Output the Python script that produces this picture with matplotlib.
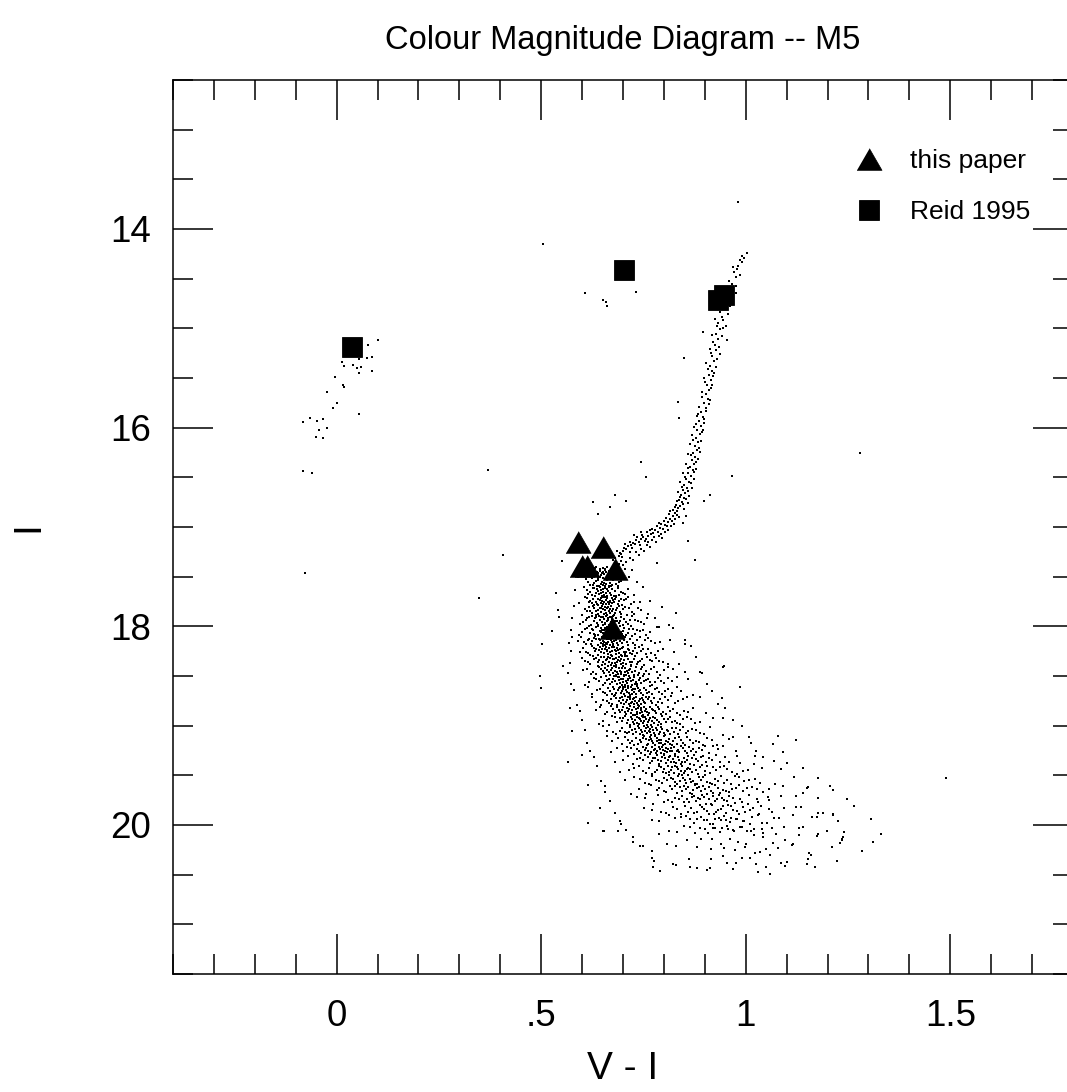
import numpy as np
import matplotlib
matplotlib.use('Agg')
import matplotlib.pyplot as plt
from matplotlib.ticker import MultipleLocator, FuncFormatter

plt.rcParams['font.family'] = ['Liberation Sans', 'DejaVu Sans']

# главная последовательность ниже точки поворота
ms_text = """
.597 17.43 .618 17.41 .624 17.44 .631 17.41 .636 17.45 .640 17.49 .644 17.42 .648 17.46 .651 17.45
.655 17.43 .659 17.45 .663 17.48 .668 17.49 .674 17.47 .681 17.49 .692 17.43 .705 17.42 .721 17.43
.589 17.50 .609 17.52 .620 17.58 .627 17.58 .633 17.54 .638 17.51 .642 17.59 .646 17.57 .650 17.51
.653 17.56 .657 17.59 .661 17.53 .665 17.59 .670 17.59 .676 17.53 .683 17.57 .691 17.55 .702 17.51
.714 17.50 .733 17.55
.583 17.63 .604 17.60 .615 17.67 .623 17.68 .629 17.61 .634 17.66 .639 17.64 .643 17.60 .647 17.66
.650 17.62 .654 17.68 .658 17.66 .662 17.62 .666 17.60 .671 17.68 .677 17.69 .684 17.69 .690 17.68
.699 17.66 .711 17.62 .726 17.68 .748 17.60
.592 17.77 .607 17.70 .617 17.76 .624 17.77 .630 17.79 .636 17.78 .640 17.72 .645 17.71 .649 17.74
.652 17.78 .656 17.70 .659 17.78 .663 17.76 .667 17.75 .672 17.71 .676 17.73 .681 17.72 .687 17.78
.694 17.72 .702 17.73 .713 17.70 .727 17.76 .741 17.76 .765 17.74
.581 17.80 .600 17.89 .612 17.85 .620 17.85 .627 17.80 .633 17.85 .638 17.88 .643 17.82 .647 17.82
.651 17.83 .655 17.81 .658 17.87 .661 17.82 .665 17.85 .669 17.83 .673 17.85 .678 17.89 .683 17.84
.689 17.80 .696 17.88 .704 17.81 .715 17.82 .728 17.88 .744 17.84 .762 17.88 .795 17.81
.576 17.92 .596 17.98 .609 17.94 .618 17.91 .625 17.90 .631 17.92 .637 17.97 .642 17.90 .646 17.91
.650 17.99 .654 17.93 .657 17.98 .661 17.95 .664 17.92 .668 17.91 .672 17.91 .676 17.90 .681 17.95
.686 17.95 .692 17.95 .699 17.99 .707 17.96 .717 17.94 .729 17.94 .743 17.96 .758 17.92 .779 17.92
.812 17.99
.572 18.04 .593 18.09 .606 18.03 .616 18.00 .623 18.03 .629 18.08 .635 18.01 .640 18.09 .645 18.06
.649 18.04 .653 18.04 .657 18.02 .660 18.08 .664 18.08 .667 18.01 .671 18.00 .675 18.09 .679 18.07
.684 18.05 .689 18.06 .694 18.06 .700 18.05 .707 18.09 .715 18.03 .724 18.03 .735 18.04 .749 18.04
.766 18.06 .788 18.01 .821 18.02
.568 18.17 .590 18.15 .604 18.16 .614 18.14 .622 18.18 .629 18.12 .635 18.13 .641 18.13 .646 18.17
.650 18.18 .654 18.16 .658 18.17 .662 18.18 .666 18.13 .669 18.11 .673 18.16 .677 18.15 .681 18.12
.685 18.17 .690 18.11 .695 18.12 .700 18.10 .706 18.11 .713 18.19 .721 18.10 .730 18.19 .741 18.11
.754 18.14 .769 18.15 .790 18.16 .815 18.14 .852 18.18
.573 18.25 .596 18.26 .610 18.26 .620 18.29 .628 18.22 .635 18.23 .641 18.24 .647 18.26 .652 18.20
.656 18.23 .660 18.24 .664 18.28 .668 18.26 .672 18.21 .676 18.20 .680 18.24 .684 18.25 .688 18.24
.692 18.23 .697 18.22 .702 18.26 .708 18.26 .714 18.24 .721 18.28 .729 18.22 .738 18.21 .749 18.23
.762 18.23 .778 18.29 .797 18.23 .824 18.26 .866 18.20
.570 18.37 .599 18.32 .615 18.36 .626 18.30 .634 18.32 .641 18.34 .648 18.39 .654 18.31 .659 18.34
.663 18.31 .668 18.32 .672 18.37 .676 18.33 .680 18.37 .684 18.32 .688 18.34 .692 18.35 .696 18.38
.700 18.37 .705 18.30 .710 18.30 .716 18.36 .722 18.36 .729 18.30 .737 18.36 .747 18.33 .758 18.31
.772 18.35 .789 18.35 .810 18.38 .838 18.38 .879 18.31
.566 18.47 .602 18.44 .621 18.48 .633 18.48 .642 18.41 .650 18.45 .657 18.42 .663 18.40 .668 18.49
.673 18.42 .677 18.40 .682 18.49 .686 18.46 .690 18.42 .694 18.48 .698 18.42 .702 18.49 .706 18.42
.710 18.45 .715 18.44 .720 18.40 .726 18.49 .732 18.41 .739 18.47 .747 18.41 .757 18.45 .769 18.43
.783 18.46 .800 18.44 .822 18.43 .851 18.46 .893 18.47
.574 18.58 .608 18.59 .628 18.52 .641 18.55 .651 18.59 .659 18.50 .666 18.53 .672 18.56 .677 18.50
.682 18.50 .687 18.51 .691 18.51 .695 18.53 .699 18.53 .703 18.50 .707 18.55 .711 18.53 .715 18.50
.719 18.55 .724 18.54 .729 18.58 .735 18.58 .741 18.52 .748 18.50 .756 18.54 .766 18.56 .778 18.56
.792 18.55 .809 18.52 .831 18.51 .860 18.53 .905 18.58
.581 18.64 .615 18.61 .636 18.64 .650 18.66 .660 18.69 .668 18.65 .675 18.61 .681 18.69 .687 18.64
.692 18.61 .697 18.65 .701 18.61 .705 18.61 .709 18.66 .713 18.60 .717 18.69 .721 18.64 .725 18.63
.729 18.63 .734 18.60 .739 18.65 .745 18.67 .752 18.62 .759 18.67 .767 18.60 .777 18.63 .789 18.66
.803 18.65 .820 18.67 .842 18.65 .871 18.69 .918 18.65
.588 18.79 .624 18.71 .645 18.79 .660 18.75 .670 18.73 .678 18.70 .685 18.79 .692 18.72 .698 18.71
.703 18.78 .708 18.76 .712 18.71 .716 18.71 .720 18.77 .724 18.73 .728 18.78 .732 18.71 .736 18.79
.741 18.73 .746 18.72 .751 18.76 .757 18.71 .764 18.71 .771 18.77 .780 18.79 .790 18.73 .802 18.71
.817 18.70 .835 18.75 .857 18.71 .887 18.71 .933 18.78
.594 18.85 .633 18.84 .655 18.88 .670 18.80 .681 18.87 .690 18.84 .697 18.84 .704 18.86 .710 18.82
.715 18.83 .720 18.87 .725 18.89 .729 18.89 .733 18.86 .737 18.82 .741 18.87 .745 18.84 .749 18.89
.754 18.85 .759 18.86 .764 18.87 .770 18.83 .777 18.85 .785 18.81 .794 18.88 .804 18.88 .816 18.85
.831 18.87 .849 18.85 .872 18.82 .903 18.87 .950 18.82
.600 18.94 .641 18.98 .665 18.99 .681 18.91 .692 18.92 .701 18.92 .709 18.97 .716 18.99 .722 18.93
.728 18.98 .733 18.91 .738 18.98 .742 18.93 .746 18.90 .750 18.91 .754 18.91 .758 18.99 .763 18.94
.768 18.99 .773 18.91 .779 18.92 .785 18.99 .792 18.98 .800 18.93 .809 18.93 .820 18.96 .832 18.97
.847 18.93 .865 18.93 .889 18.96 .921 18.92 .968 18.94
.606 19.04 .650 19.00 .676 19.06 .692 19.05 .704 19.06 .714 19.06 .722 19.04 .729 19.03 .736 19.00
.742 19.08 .747 19.06 .752 19.00 .757 19.02 .761 19.01 .765 19.03 .769 19.09 .774 19.04 .779 19.09
.784 19.04 .790 19.06 .796 19.03 .803 19.09 .811 19.05 .819 19.02 .829 19.02 .840 19.04 .853 19.07
.869 19.03 .888 19.07 .912 19.01 .945 19.09 .991 19.00
.613 19.17 .660 19.10 .687 19.12 .705 19.11 .718 19.17 .728 19.19 .737 19.18 .745 19.16 .752 19.10
.758 19.19 .764 19.14 .769 19.13 .774 19.17 .779 19.10 .784 19.12 .789 19.17 .794 19.17 .800 19.10
.806 19.15 .812 19.13 .819 19.19 .827 19.12 .836 19.11 .846 19.17 .857 19.11 .870 19.17 .886 19.16
.905 19.12 .929 19.19 .960 19.13 1.008 19.11
.620 19.26 .670 19.27 .699 19.25 .719 19.22 .733 19.23 .744 19.28 .753 19.24 .761 19.26 .768 19.27
.775 19.24 .781 19.28 .787 19.21 .792 19.28 .797 19.24 .803 19.26 .808 19.27 .814 19.26 .820 19.26
.827 19.29 .834 19.24 .842 19.20 .851 19.25 .861 19.21 .872 19.23 .885 19.22 .901 19.20 .920 19.20
.944 19.20 .976 19.25 1.025 19.26
.628 19.32 .681 19.37 .712 19.31 .733 19.34 .748 19.35 .760 19.32 .770 19.36 .778 19.33 .786 19.35
.793 19.36 .800 19.30 .806 19.38 .812 19.32 .818 19.37 .824 19.37 .830 19.38 .837 19.35 .844 19.37
.852 19.37 .860 19.31 .869 19.33 .879 19.34 .890 19.32 .903 19.37 .918 19.35 .936 19.37 .958 19.37
.985 19.38 1.020 19.39 1.068 19.36
.637 19.41 .693 19.47 .726 19.43 .748 19.46 .764 19.43 .777 19.47 .788 19.41 .797 19.47 .805 19.48
.813 19.47 .820 19.42 .827 19.41 .834 19.44 .841 19.46 .848 19.48 .856 19.44 .864 19.44 .873 19.40
.883 19.49 .894 19.40 .906 19.41 .920 19.42 .936 19.42 .955 19.44 .978 19.49 1.006 19.45 1.040 19.43
1.086 19.44 1.140 19.43
.646 19.56 .706 19.55 .741 19.54 .764 19.59 .781 19.55 .795 19.58 .807 19.55 .817 19.53 .826 19.57
.835 19.51 .843 19.50 .851 19.55 .859 19.50 .867 19.57 .876 19.59 .885 19.52 .895 19.52 .906 19.57
.918 19.59 .931 19.56 .946 19.58 .963 19.59 .983 19.52 1.007 19.55 1.036 19.58 1.072 19.59 1.118 19.52
1.176 19.53
.657 19.61 .720 19.69 .757 19.69 .782 19.65 .800 19.66 .815 19.61 .828 19.61 .839 19.62 .849 19.61
.859 19.62 .868 19.69 .877 19.60 .886 19.62 .895 19.61 .905 19.69 .915 19.66 .926 19.60 .938 19.68
.951 19.66 .966 19.64 .983 19.60 1.003 19.63 1.027 19.64 1.056 19.64 1.092 19.61 1.140 19.68 1.205 19.61
.668 19.76 .735 19.72 .774 19.79 .801 19.77 .820 19.77 .836 19.74 .850 19.77 .862 19.77 .873 19.71
.884 19.73 .894 19.70 .904 19.79 .914 19.79 .924 19.76 .935 19.70 .947 19.75 .960 19.71 .974 19.78
.990 19.77 1.008 19.70 1.029 19.77 1.054 19.72 1.085 19.71 1.124 19.71 1.176 19.73 1.248 19.74
.680 19.88 .752 19.83 .793 19.87 .821 19.82 .842 19.89 .859 19.87 .874 19.88 .887 19.80 .899 19.84
.911 19.89 .922 19.89 .933 19.85 .944 19.81 .956 19.80 .969 19.85 .983 19.89 .999 19.87 1.017 19.83
1.038 19.81 1.063 19.87 1.094 19.83 1.134 19.82 1.188 19.88 1.265 19.81
.694 19.99 .770 19.95 .812 19.90 .842 19.92 .864 19.94 .882 19.94 .898 19.95 .913 19.99 .926 19.94
.939 19.95 .951 19.95 .964 19.93 .978 19.94 .993 19.96 1.010 19.99 1.030 19.90 1.053 19.98 1.081 19.93
1.116 19.90 1.162 19.92 1.225 19.96 1.305 19.94
.708 20.05 .789 20.09 .833 20.07 .864 20.02 .888 20.03 .908 20.08 .926 20.03 .942 20.03 .957 20.04
.972 20.06 .987 20.02 1.003 20.06 1.021 20.04 1.041 20.08 1.065 20.03 1.094 20.02 1.130 20.03 1.177 20.09
1.240 20.07 1.330 20.09
.724 20.12 .808 20.19 .856 20.15 .890 20.14 .917 20.14 .940 20.19 .961 20.14 .981 20.17 1.000 20.19
1.020 20.10 1.042 20.12 1.066 20.18 1.095 20.15 1.130 20.10 1.175 20.11 1.235 20.15 1.312 20.17
.742 20.21 .830 20.21 .880 20.22 .916 20.24 .946 20.23 .973 20.25 .998 20.22 1.023 20.28 1.049 20.24
1.078 20.23 1.112 20.20 1.155 20.28 1.212 20.22 1.285 20.26
.775 20.36 .862 20.34 .915 20.34 .955 20.38 .990 20.33 1.024 20.39 1.060 20.30 1.100 20.37 1.152 20.34
1.222 20.36
.830 20.40 .905 20.45 .968 20.44 1.030 20.47 1.095 20.41 1.170 20.42
"""

# плотное ядро главной последовательности (второй проход)
core_text = """
.626 17.47 .633 17.40 .639 17.46 .646 17.48 .650 17.41 .653 17.47 .657 17.42 .661 17.40 .666 17.44
.671 17.46 .677 17.41 .686 17.46 .612 17.48 .643 17.44
.615 17.55 .624 17.51 .630 17.56 .636 17.59 .640 17.53 .644 17.50 .648 17.55 .652 17.58 .655 17.52
.659 17.57 .663 17.51 .667 17.56 .673 17.58 .679 17.52 .687 17.59 .696 17.54
.611 17.63 .619 17.65 .626 17.61 .632 17.69 .637 17.62 .641 17.67 .645 17.63 .649 17.69 .652 17.65
.656 17.61 .660 17.69 .664 17.64 .668 17.66 .674 17.62 .680 17.64 .687 17.61 .694 17.65 .704 17.67
.612 17.71 .620 17.74 .627 17.72 .633 17.76 .638 17.79 .643 17.73 .647 17.77 .651 17.70 .654 17.76
.658 17.73 .661 17.71 .665 17.78 .669 17.74 .674 17.77 .679 17.75 .684 17.70 .690 17.74 .697 17.79
.707 17.72 .719 17.78
.608 17.83 .616 17.81 .624 17.87 .630 17.82 .635 17.89 .640 17.84 .645 17.86 .649 17.80 .653 17.88
.656 17.84 .660 17.89 .663 17.81 .667 17.87 .671 17.80 .676 17.83 .681 17.87 .686 17.82 .692 17.86
.699 17.83 .709 17.89 .721 17.86 .736 17.82
.603 17.96 .613 17.92 .621 17.99 .628 17.95 .634 17.91 .639 17.99 .644 17.94 .648 17.96 .652 17.91
.655 17.97 .659 17.90 .663 17.94 .666 17.99 .670 17.96 .674 17.93 .678 17.98 .683 17.92 .689 17.97
.695 17.91 .703 17.93 .712 17.98 .723 17.90 .736 17.95 .751 17.98
.600 18.06 .611 18.02 .619 18.07 .626 18.04 .632 18.09 .638 18.00 .643 18.05 .647 18.02 .651 18.07
.655 18.09 .659 18.03 .662 18.01 .666 18.06 .669 18.04 .673 18.08 .677 18.02 .682 18.09 .687 18.03
.692 18.00 .697 18.08 .703 18.02 .711 18.07 .719 18.00 .729 18.08 .742 18.05 .757 18.09
.597 18.11 .609 18.18 .618 18.13 .625 18.15 .632 18.10 .638 18.19 .643 18.14 .648 18.11 .652 18.15
.656 18.19 .660 18.13 .664 18.16 .667 18.19 .671 18.14 .675 18.18 .679 18.10 .683 18.14 .688 18.19
.692 18.15 .697 18.17 .703 18.14 .709 18.16 .717 18.13 .725 18.17 .735 18.14 .747 18.19 .761 18.12
.778 18.17
.602 18.22 .615 18.27 .624 18.20 .632 18.25 .638 18.29 .644 18.21 .649 18.23 .654 18.27 .658 18.21
.662 18.25 .666 18.22 .670 18.29 .674 18.25 .678 18.21 .682 18.28 .686 18.22 .690 18.27 .695 18.29
.699 18.21 .705 18.28 .711 18.23 .718 18.27 .725 18.25 .733 18.27 .743 18.25 .755 18.28 .769 18.27
.786 18.25
.606 18.35 .620 18.38 .630 18.33 .638 18.36 .645 18.31 .651 18.36 .656 18.38 .661 18.33 .666 18.36
.670 18.39 .674 18.30 .678 18.33 .682 18.39 .686 18.36 .690 18.31 .694 18.33 .698 18.30 .702 18.34
.707 18.38 .713 18.33 .719 18.39 .726 18.33 .733 18.38 .742 18.35 .752 18.39 .765 18.34 .780 18.32
.798 18.36
.612 18.43 .627 18.46 .638 18.40 .646 18.43 .654 18.47 .660 18.44 .666 18.46 .671 18.44 .675 18.47
.680 18.45 .684 18.41 .688 18.48 .692 18.45 .696 18.46 .700 18.40 .704 18.46 .708 18.49 .713 18.47
.718 18.43 .723 18.46 .729 18.45 .736 18.49 .743 18.43 .752 18.48 .763 18.48 .776 18.41 .791 18.49
.811 18.41
.618 18.56 .635 18.53 .646 18.51 .655 18.57 .662 18.54 .669 18.58 .675 18.53 .680 18.55 .685 18.58
.689 18.54 .693 18.57 .697 18.59 .701 18.56 .705 18.59 .709 18.57 .713 18.54 .717 18.52 .722 18.59
.727 18.51 .732 18.56 .738 18.54 .745 18.57 .752 18.55 .761 18.53 .772 18.59 .785 18.52 .800 18.57
.820 18.55
.625 18.68 .643 18.63 .655 18.67 .664 18.62 .672 18.68 .678 18.63 .684 18.67 .689 18.62 .694 18.67
.699 18.63 .703 18.68 .707 18.64 .711 18.62 .715 18.67 .719 18.61 .723 18.68 .727 18.66 .732 18.68
.737 18.62 .742 18.64 .748 18.69 .755 18.64 .763 18.66 .772 18.68 .783 18.62 .796 18.68 .811 18.63
.831 18.61
.635 18.76 .652 18.74 .665 18.77 .674 18.78 .682 18.72 .689 18.75 .695 18.77 .701 18.74 .706 18.70
.710 18.74 .714 18.78 .718 18.73 .722 18.76 .726 18.72 .730 18.75 .734 18.77 .738 18.75 .743 18.78
.749 18.74 .754 18.77 .760 18.73 .768 18.75 .776 18.72 .785 18.76 .796 18.77 .809 18.74 .826 18.77
.846 18.73
.643 18.81 .662 18.86 .675 18.83 .685 18.81 .693 18.86 .700 18.81 .707 18.88 .712 18.85 .717 18.80
.722 18.84 .727 18.81 .731 18.83 .735 18.88 .739 18.80 .743 18.82 .747 18.86 .751 18.81 .756 18.83
.761 18.89 .767 18.81 .773 18.84 .780 18.87 .789 18.83 .798 18.86 .809 18.81 .823 18.83 .839 18.89
.860 18.86
.652 18.95 .672 18.90 .686 18.96 .697 18.95 .705 18.90 .712 18.94 .719 18.91 .725 18.96 .730 18.94
.735 18.97 .740 18.92 .744 18.95 .748 18.97 .752 18.95 .756 18.93 .760 18.96 .765 18.92 .770 18.95
.776 18.97 .782 18.94 .789 18.96 .796 18.90 .804 18.96 .814 18.91 .826 18.95 .840 18.98 .856 18.91
.877 18.97
.662 19.05 .683 19.08 .698 19.02 .709 19.07 .718 19.01 .725 19.08 .732 19.06 .739 19.02 .744 19.04
.749 19.09 .754 19.05 .759 19.07 .763 19.05 .767 19.06 .771 19.01 .776 19.07 .781 19.02 .787 19.08
.793 19.01 .799 19.07 .807 19.04 .815 19.08 .824 19.06 .834 19.08 .846 19.01 .860 19.05 .878 19.04
.899 19.08
.674 19.15 .697 19.18 .712 19.14 .723 19.15 .732 19.12 .741 19.14 .748 19.12 .755 19.13 .761 19.18
.767 19.11 .772 19.15 .777 19.19 .782 19.15 .787 19.14 .792 19.14 .797 19.19 .803 19.18 .809 19.16
.816 19.18 .823 19.15 .831 19.18 .841 19.14 .851 19.19 .863 19.14 .878 19.15 .895 19.19 .917 19.14
.686 19.22 .710 19.21 .726 19.29 .739 19.26 .749 19.21 .757 19.22 .765 19.29 .772 19.21 .778 19.23
.784 19.25 .790 19.23 .795 19.21 .800 19.29 .806 19.22 .811 19.23 .817 19.22 .824 19.21 .831 19.26
.838 19.27 .847 19.22 .856 19.28 .866 19.26 .878 19.27 .893 19.24 .910 19.28 .932 19.23
.700 19.35 .724 19.39 .741 19.33 .754 19.30 .765 19.38 .774 19.33 .782 19.30 .789 19.39 .796 19.32
.803 19.33 .809 19.35 .815 19.31 .821 19.34 .827 19.31 .834 19.32 .841 19.39 .848 19.33 .856 19.35
.864 19.39 .874 19.30 .884 19.36 .896 19.31 .911 19.33 .928 19.30 .950 19.32
.714 19.45 .739 19.41 .757 19.48 .770 19.49 .782 19.45 .792 19.42 .801 19.44 .809 19.41 .817 19.45
.824 19.48 .831 19.42 .838 19.49 .845 19.41 .852 19.46 .860 19.43 .868 19.47 .878 19.45 .888 19.42
.900 19.46 .913 19.48 .928 19.45 .946 19.41 .967 19.47 .993 19.46
.726 19.52 .753 19.58 .772 19.51 .787 19.56 .800 19.53 .812 19.50 .822 19.54 .831 19.59 .839 19.56
.847 19.53 .855 19.58 .863 19.54 .872 19.56 .881 19.59 .890 19.55 .900 19.50 .912 19.58 .925 19.54
.939 19.51 .955 19.55 .974 19.51 .996 19.56 1.022 19.54
.739 19.64 .768 19.60 .789 19.63 .806 19.67 .820 19.64 .833 19.68 .844 19.66 .854 19.64 .863 19.68
.872 19.65 .881 19.63 .891 19.66 .900 19.64 .910 19.62 .920 19.68 .932 19.63 .945 19.65 .959 19.67
.975 19.63 .993 19.66 1.015 19.62 1.042 19.67
.754 19.73 .786 19.70 .809 19.75 .828 19.73 .843 19.71 .856 19.74 .868 19.72 .879 19.76 .889 19.74
.899 19.72 .909 19.74 .919 19.71 .930 19.74 .942 19.73 .955 19.76 .970 19.73 .986 19.74 1.005 19.79
1.028 19.74 1.058 19.75
.771 19.85 .806 19.88 .831 19.84 .851 19.81 .867 19.83 .881 19.87 .894 19.82 .906 19.86 .917 19.80
.928 19.87 .939 19.84 .951 19.88 .964 19.81 .978 19.86 .993 19.82 1.011 19.85 1.032 19.89 1.057 19.84
.789 19.96 .826 19.93 .853 19.91 .873 19.98 .890 19.92 .905 19.95 .920 19.99 .934 19.93 .948 19.91
.962 19.97 .977 19.94 .995 19.96 1.015 19.92 1.040 19.98 1.070 19.93
.812 20.06 .850 20.01 .877 20.08 .900 20.04 .919 20.03 .937 20.07 .953 20.01 .970 20.05 .990 20.02
1.013 20.06 1.040 20.04 1.075 20.09
"""

# субгиганты и ветвь красных гигантов
rgb_text = """
.676 17.33 .689 17.29 .681 17.31 .694 17.27 .700 17.24 .692 17.26 .707 17.22 .713 17.19 .703 17.21
.719 17.18 .725 17.16 .716 17.15 .731 17.13 .738 17.15 .744 17.12 .729 17.17 .750 17.10 .756 17.12
.747 17.08 .762 17.09 .768 17.07 .759 17.05 .773 17.06 .779 17.03 .770 17.02 .785 17.05 .790 17.01
.782 16.99 .797 17.02 .794 16.97 .803 16.98 .799 16.94 .810 16.95 .806 16.91 .815 16.92 .821 16.89
.812 16.87 .826 16.86 .831 16.84 .823 16.83 .835 16.81 .840 16.79 .829 16.78 .843 16.75 .837 16.73
.848 16.71 .842 16.68 .851 16.66 .846 16.63 .857 16.61 .850 16.58 .861 16.55 .855 16.52 .866 16.49
.859 16.46 .870 16.43 .864 16.40 .873 16.37 .868 16.33 .877 16.30 .871 16.26 .880 16.22 .875 16.18
.884 16.14 .879 16.10 .887 16.06 .882 16.02 .890 15.98 .885 15.93 .895 15.89 .890 15.84 .902 15.80
.897 15.75 .907 15.71 .903 15.66 .910 15.62 .906 15.57 .914 15.52 .909 15.47 .917 15.43 .913 15.38
.923 15.33 .918 15.28 .928 15.22 .924 15.17 .932 15.11 .927 15.06 .937 15.01 .933 14.95 .943 14.89
.938 14.84 .952 14.79 .958 14.73 .963 14.67 .969 14.61 .966 14.55 .975 14.48 .972 14.43 .981 14.37
.986 14.31 .992 14.27 1.003 14.24
.671 17.28 .686 17.24 .698 17.30 .705 17.17 .722 17.21 .734 17.10 .741 17.18 .753 17.14 .765 17.03
.776 17.10 .788 16.96 .761 17.15 .717 17.25 .695 17.34 .728 17.08 .744 17.05 .792 17.07 .808 16.99
.819 16.94 .833 16.88 .827 16.80 .816 16.84 .847 16.77 .839 16.70 .853 16.72 .845 16.60 .860 16.64
.852 16.50 .867 16.56 .858 16.41 .874 16.45 .865 16.28 .879 16.35 .872 16.12 .886 16.20 .878 15.96
.893 16.04 .884 15.86 .899 15.91 .893 15.69 .911 15.76 .901 15.54 .916 15.60 .907 15.41 .920 15.48
.915 15.25 .930 15.31 .921 15.14 .935 15.19 .929 14.98 .945 14.92 .947 14.70 .961 14.78 .975 14.57
.978 14.40 .990 14.33
.846 16.96 .828 16.92 .838 16.90 .824 16.97 .817 16.99 .802 17.05 .811 17.03 .787 17.09 .796 17.11
.772 17.13 .781 17.15 .758 17.18 .767 17.20 .744 17.22 .752 17.24 .731 17.25 .738 17.28 .716 17.31
.724 17.33 .708 17.35 .701 17.38 .689 17.37
.855 16.89 .849 16.82 .858 16.76 .833 16.74 .862 16.69 .834 16.65 .869 16.61 .840 16.55 .873 16.52
.847 16.46 .878 16.42 .853 16.37 .883 16.32 .858 16.27 .887 16.24 .863 16.16 .891 16.13 .869 16.07
.895 16.02 .874 15.99 .899 15.95 .880 15.88 .904 15.83 .886 15.79 .912 15.72 .894 15.64 .918 15.57
.898 15.50 .922 15.45 .904 15.35 .928 15.39 .912 15.21 .936 15.26 .918 15.07 .941 15.08 .924 14.91
.952 14.98 .956 14.86 .946 14.66 .977 14.64 .960 14.52 .985 14.46 .968 14.38 .996 14.29
.849 15.30 .834 15.74 .837 15.90 .744 16.35 .756 16.50 .966 16.49 .944 15.00 .953 15.12 .895 15.04
.680 16.68 .627 16.75 .668 16.80 .707 16.74 .638 16.87 .912 16.68 .898 16.74 .876 17.33 .782 17.36
.859 17.14
"""

# горизонтальная ветвь и AGB
hb_text = """
.100 15.12 .076 15.17 .086 15.29 .074 15.30 .054 15.31 .012 15.34 .018 15.38 .039 15.37 .050 15.40
.060 15.39 .054 15.45 .086 15.43 -.004 15.49 .016 15.57 .018 15.59 -.024 15.64 .000 15.75 -.008 15.80
.054 15.86 -.065 15.90 -.082 15.94 -.049 15.93 -.034 15.91 -.024 16.00 -.043 16.02 -.051 16.09
-.033 16.10 -.083 16.44 -.061 16.46
.607 14.64 .651 14.71 .658 14.73 .662 14.78 .731 14.63 .504 14.15
"""

# поле: разбросанные звёзды вокруг последовательности
field_text = """
.407 17.28 .552 17.34 .536 17.66 .541 17.84 .543 17.91 .526 18.05 .501 18.18 .497 18.50 .575 18.11
.829 17.87 .782 18.01 .851 18.14 .944 18.41 .887 18.46
.947 18.40 .985 18.61 .942 18.72 .945 18.92 .969 19.11 1.079 19.10 1.124 19.14 1.013 19.17 1.066 19.18
1.091 19.27 .978 19.31 1.023 19.31 1.042 19.32 1.100 19.38 1.149 19.63 1.213 19.65 1.213 19.90
1.173 19.92 1.238 20.12 1.124 19.82
.553 18.40 .500 18.62 .570 18.82 .575 19.05 .566 19.37 .599 19.30 .615 19.60 .644 19.83 .615 19.98
.652 20.06
.770 20.26 .770 20.33 .790 20.46 .774 20.42 .823 20.39 .864 20.42 .880 20.43 .912 20.43 .944 20.31
.977 20.38 1.010 20.33 1.034 20.27 1.050 20.42 1.059 20.49 1.085 20.38 1.149 20.39 1.159 20.30
1.115 20.19 1.230 20.18 1.235 20.14 1.198 20.06 1.213 19.89 1.152 19.62 1.177 19.88 1.140 20.02
.653 20.06 .688 20.06 .725 20.17 .748 20.21 .656 19.67 .692 19.96
.370 16.43 -.077 17.46 .348 17.71 1.280 16.25 1.490 19.53 .980 13.73
"""


def pairs(text):
    arr = np.array(text.split(), dtype=float).reshape(-1, 2)
    return arr[:, 0], arr[:, 1]


ms_vi, ms_i = pairs(ms_text)
core_vi, core_i = pairs(core_text)
rgb_vi, rgb_i = pairs(rgb_text)
hb_vi, hb_i = pairs(hb_text)
field_vi, field_i = pairs(field_text)

# наблюдения
this_paper_vi = [0.590, 0.650, 0.600, 0.611, 0.681, 0.672]
this_paper_i = [17.15, 17.20, 17.39, 17.39, 17.42, 18.02]
reid_vi = [0.038, 0.702, 0.948, 0.931]
reid_i = [15.19, 14.415, 14.664, 14.718]

# ---- рисунок ----
fig = plt.figure(figsize=(10.67, 10.92), dpi=100)
ax = fig.add_axes([173 / 1067, 118 / 1092, 900 / 1067, 894 / 1092])

for vi, mag in [(ms_vi, ms_i), (core_vi, core_i), (rgb_vi, rgb_i),
                (hb_vi, hb_i), (field_vi, field_i)]:
    ax.plot(vi, mag, 's', ms=1.85, mew=0, color='black')

triangle = [(-1, -0.866), (1, -0.866), (0, 0.866)]
ax.plot(this_paper_vi, this_paper_i, ls='none', marker=triangle, ms=18,
        mew=0.5, color='black', label='this paper')
ax.plot(reid_vi, reid_i, ls='none', marker='s', ms=15, mew=0.6,
        color='black', label='Reid 1995')

ax.set_xlim(-0.4, 1.8)
ax.set_ylim(21.5, 12.5)

ax.xaxis.set_major_locator(MultipleLocator(0.5))
ax.xaxis.set_minor_locator(MultipleLocator(0.1))
ax.yaxis.set_major_locator(MultipleLocator(2))
ax.yaxis.set_minor_locator(MultipleLocator(0.5))


def fmt_x(v, pos):
    s = f"{v:g}"
    if s.startswith("0."):
        s = s[1:]
    return s


ax.xaxis.set_major_formatter(FuncFormatter(fmt_x))

ax.tick_params(which='both', direction='in', top=True, right=True, width=1.1)
ax.tick_params(which='major', length=28.8, labelsize=26.5)
ax.tick_params(which='minor', length=14.4)
ax.tick_params(axis='x', pad=18)
ax.tick_params(axis='y', pad=16)
for sp in ax.spines.values():
    sp.set_linewidth(1.1)

ax.set_title('Colour Magnitude Diagram -- M5', fontsize=23.5, pad=22.5)
ax.set_xlabel('V - I', fontsize=28, labelpad=12)
ax.set_ylabel('I', fontsize=28, labelpad=46)

ax.legend(loc='upper left', bbox_to_anchor=(0.759, 0.923), frameon=False,
          fontsize=19, handlelength=1.0, handletextpad=1.05, labelspacing=1.03,
          borderpad=0, borderaxespad=0, numpoints=1)

fig.savefig('out.png', dpi=100)
